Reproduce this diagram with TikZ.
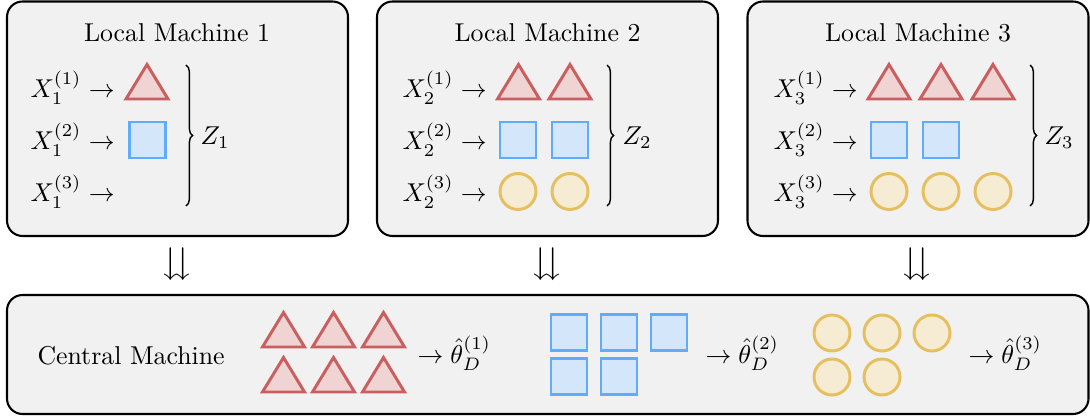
\documentclass[tikz,border=0pt]{standalone}
\usepackage{amsmath,amssymb}
\usetikzlibrary{decorations.pathreplacing}
\definecolor{boxfill}{RGB}{241,241,241}
\definecolor{tridraw}{RGB}{201,95,95}
\definecolor{trifill}{RGB}{240,211,211}
\definecolor{sqdraw}{RGB}{96,172,250}
\definecolor{sqfill}{RGB}{212,231,250}
\definecolor{cidraw}{RGB}{230,192,96}
\definecolor{cifill}{RGB}{246,236,212}
\tikzset{
  machinebox/.style={draw=black, fill=boxfill, line width=0.8pt, rounded corners=6pt},
  trishape/.style={draw=tridraw, fill=trifill, line width=1.15pt, line join=miter},
  sqshape/.style={draw=sqdraw, fill=sqfill, line width=1.15pt},
  cishape/.style={draw=cidraw, fill=cifill, line width=1.15pt},
  lbl/.style={inner sep=0pt, anchor=base west},
  ttl/.style={inner sep=0pt, anchor=base},
  bracestyle/.style={decorate, decoration={brace, amplitude=2.6pt}, line width=0.55pt},
}
\newcommand\mytri[2]{\draw[trishape] (#1-21,#2+17) -- (#1,#2-17.5) -- (#1+21,#2+17) -- cycle;}
\newcommand\mysq[2]{\draw[sqshape] (#1-18,#2-18) rectangle (#1+18,#2+18);}
\newcommand\myci[2]{\draw[cishape] (#1,#2) circle[radius=18];}
\begin{document}
\begin{tikzpicture}[x=0.3876pt, y=-0.3876pt]
\useasboundingbox (0,0) rectangle (1090,416);
% boxes
\draw[machinebox] (7,1.5) rectangle (348,236);
\draw[machinebox] (377,1.5) rectangle (718,236);
\draw[machinebox] (747.5,1.5) rectangle (1088.5,236);
\draw[machinebox] (7,295) rectangle (1088.5,414);
% titles
\node[ttl] (t1) at (177,42) {Local Machine 1};
\node[ttl] (t2) at (547.5,42) {Local Machine 2};
\node[ttl] (t3) at (918,42) {Local Machine 3};
% machine 1
\node[lbl] (x11) at (30,98) {$X_1^{(1)}\rightarrow$};
\node[lbl] (x12) at (30,150) {$X_1^{(2)}\rightarrow$};
\node[lbl] (x13) at (30,202) {$X_1^{(3)}\rightarrow$};
\mytri{147}{82}
\mysq{147.5}{140}
\coordinate (b1a) at (186,65);
\coordinate (b1b) at (186,206);
\draw[bracestyle] (b1a) -- (b1b);
\node[lbl] (z1) at (200,145) {$Z_1$};
% machine 2
\node[lbl] (x21) at (402,98) {$X_2^{(1)}\rightarrow$};
\node[lbl] (x22) at (402,150) {$X_2^{(2)}\rightarrow$};
\node[lbl] (x23) at (402,202) {$X_2^{(3)}\rightarrow$};
\mytri{518.5}{82}\mytri{570}{82}
\mysq{518}{140}\mysq{570}{140}
\myci{518}{191.5}\myci{570}{191.5}
\coordinate (b2a) at (607,65);
\coordinate (b2b) at (607,206);
\draw[bracestyle] (b2a) -- (b2b);
\node[lbl] (z2) at (622,145) {$Z_2$};
% machine 3
\node[lbl] (x31) at (773,98) {$X_3^{(1)}\rightarrow$};
\node[lbl] (x32) at (773,150) {$X_3^{(2)}\rightarrow$};
\node[lbl] (x33) at (773,202) {$X_3^{(3)}\rightarrow$};
\mytri{889}{82}\mytri{941}{82}\mytri{993}{82}
\mysq{889}{140}\mysq{941}{140}
\myci{889}{191.5}\myci{941}{191.5}\myci{993}{191.5}
\coordinate (b3a) at (1030,65);
\coordinate (b3b) at (1030,206);
\draw[bracestyle] (b3a) -- (b3b);
\node[lbl] (z3) at (1044,145) {$Z_3$};
% down arrows
\node (d1) at (177,264) {\Large$\downdownarrows$};
\node (d2) at (547,264) {\Large$\downdownarrows$};
\node (d3) at (917,264) {\Large$\downdownarrows$};
% central
\node[lbl] (cm) at (37,364) {Central Machine};
\mytri{283.5}{330}\mytri{333.5}{330}\mytri{383.5}{330}
\mytri{283.5}{375}\mytri{333.5}{375}\mytri{383.5}{375}
\node[lbl] (th1) at (417,363) {$\rightarrow\hat{\theta}_D^{(1)}$};
\mysq{569}{332.5}\mysq{619}{332.5}\mysq{669}{332.5}
\mysq{569}{376.5}\mysq{619}{376.5}
\node[lbl] (th2) at (705,363) {$\rightarrow\hat{\theta}_D^{(2)}$};
\myci{832}{333}\myci{882}{333}\myci{932}{333}
\myci{832}{377}\myci{882}{377}
\node[lbl] (th3) at (968,363) {$\rightarrow\hat{\theta}_D^{(3)}$};
\end{tikzpicture}
\end{document}
